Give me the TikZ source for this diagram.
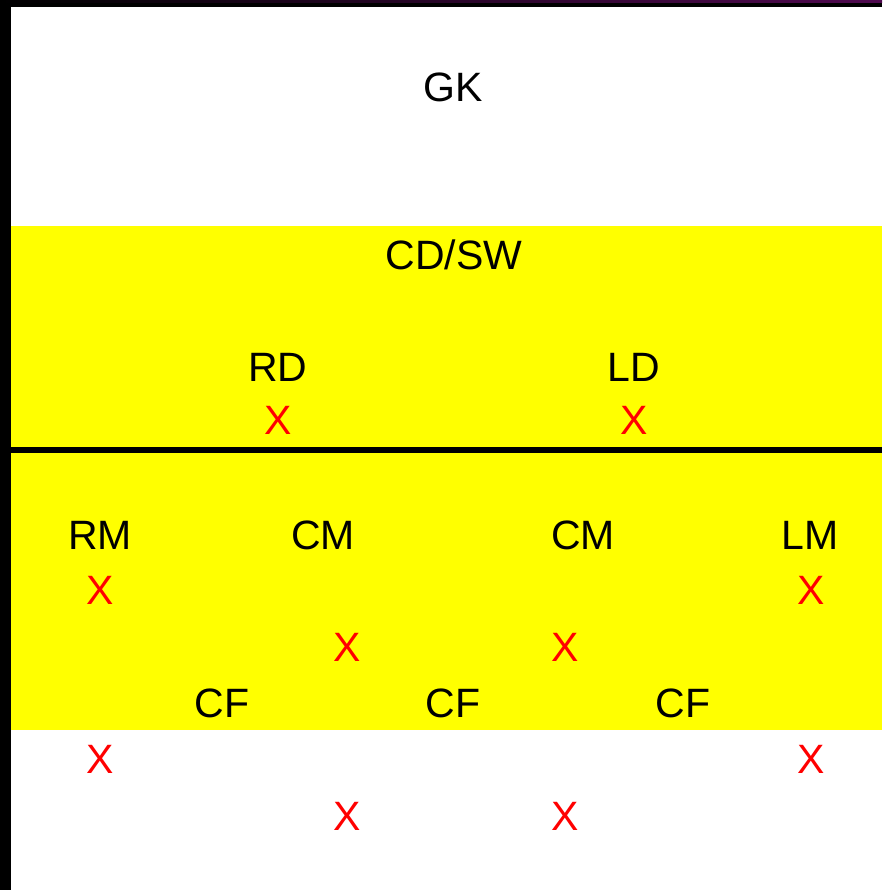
\documentclass[tikz,border=0pt]{standalone}
\usepackage{fontspec}
\setmainfont{Liberation Sans}
\definecolor{fieldyellow}{RGB}{255,255,0}
\definecolor{pureRed}{RGB}{255,0,0}
\begin{document}
\begin{tikzpicture}[x=1pt,y=-1pt,
  lbl/.style={font=\fontsize{41}{45}\selectfont, text=black, inner sep=0pt},
  xmark/.style={font=\fontsize{41}{45}\selectfont, text=pureRed, inner sep=0pt}]
\useasboundingbox (0,0) rectangle (882,890);
\fill[white] (0,0) rectangle (882,890);
\fill[fieldyellow] (11,226) rectangle (882,730);
\fill[black] (11,447) rectangle (882,453);
\fill[black] (0,0) rectangle (11,890);
\fill[black] (0,0) rectangle (882,7);
\shade[left color=black, right color={rgb,255:red,80;green,10;blue,80}] (0,0) rectangle (882,3);
\node[lbl] (gk) at (453,87) {GK};
\node[lbl] (cdsw) at (454,255) {CD/SW};
\node[lbl] (rd) at (278,367) {RD};
\node[lbl] (ld) at (634,367) {LD};
\node[xmark] (x1) at (278,420) {X};
\node[xmark] (x2) at (634,420) {X};
\node[lbl] (rm) at (100,535) {RM};
\node[lbl] (cm1) at (323,535) {CM};
\node[lbl] (cm2) at (583,535) {CM};
\node[lbl] (lm) at (810,535) {LM};
\node[xmark] (x3) at (100,590) {X};
\node[xmark] (x4) at (811,590) {X};
\node[xmark] (x5) at (347,647) {X};
\node[xmark] (x6) at (565,647) {X};
\node[lbl] (cf1) at (222,703) {CF};
\node[lbl] (cf2) at (453,703) {CF};
\node[lbl] (cf3) at (683,703) {CF};
\node[xmark] (x7) at (100,759) {X};
\node[xmark] (x8) at (811,759) {X};
\node[xmark] (x9) at (347,816) {X};
\node[xmark] (x10) at (565,816) {X};
\end{tikzpicture}
\end{document}
